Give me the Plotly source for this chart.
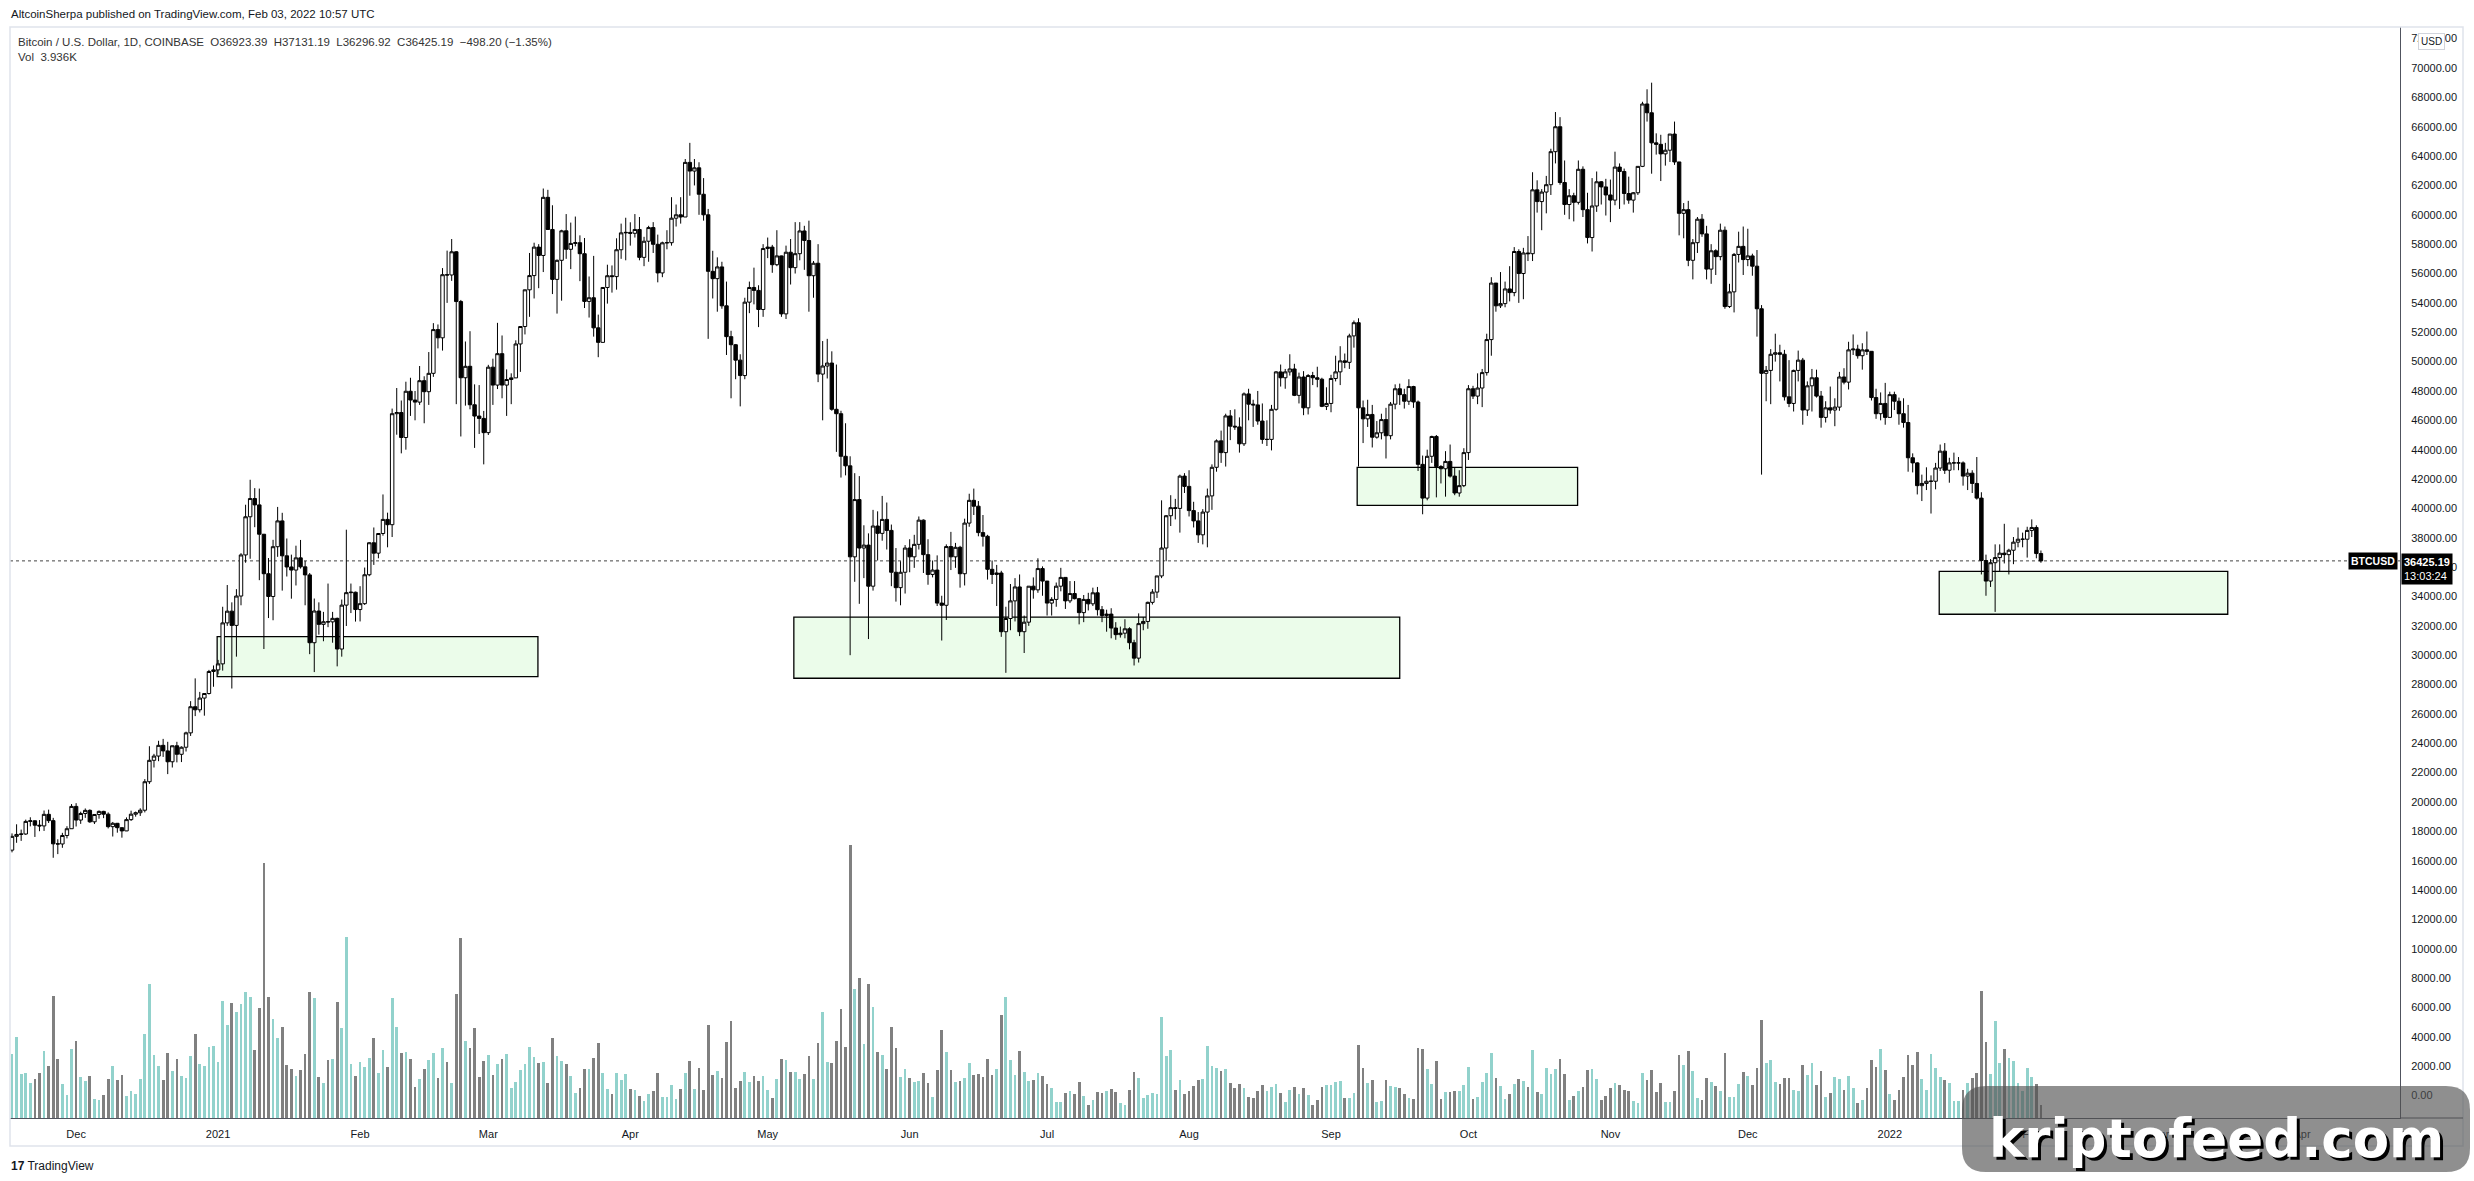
import pandas as pd
import plotly.graph_objects as go

# ---------------- DATA ----------------
START = "2020-11-17"
N_BARS = 444
FIRST_OPEN = 16720

close = [
    17660,17790,17820,18680,18720,18420,18370,19160,18730,17150,17140,17720,18180,19700,
    18770,19220,19430,18650,19150,19360,19170,18320,18550,18250,18030,18800,19170,19270,19440,21380,22840,23130,23860,23480,22740,23830,23250,23730,24710,26490,26280,27080,27390,28890,29000,
    29410,32200,33000,32030,34030,36830,39430,40670,40240,38240,35550,34000,37390,39150,36770,36010,35800,36630,36020,35470,30850,33010,32100,32280,32270,32510,30420,33410,34260,34290,33110,
    33510,35480,37660,36950,38290,39250,38890,46450,46530,44830,47980,47380,47240,48700,47950,49200,52180,51620,55920,55900,57480,54090,48900,49680,47060,46290,46130,45160,
    49620,48400,50540,48400,48780,48890,51200,52390,54890,55860,57800,57230,61190,59000,55600,56900,58910,57650,58050,58100,57350,54100,54350,52300,51310,55050,55850,55790,57620,58770,58800,
    58740,59000,57100,58200,59130,57990,56040,58090,58100,59770,60000,59850,63570,62980,63200,61400,60000,56150,55650,56450,53800,51700,51150,50100,49050,54050,55050,54850,53550,57700,
    57800,56600,57200,53250,57450,56400,57350,58900,58250,55850,56700,49150,49700,49900,46750,46450,43550,42900,36700,40600,37300,37500,34700,38800,38300,39250,38500,35650,34600,35650,37300,
    36700,37550,39200,36850,35500,35800,33550,33400,37400,36700,37350,35550,39000,40550,40150,38350,38100,35850,35500,35600,31600,32500,33700,34650,31600,32250,34700,34450,35900,35050,
    33550,33800,34700,35300,33700,34200,33850,32900,33800,33500,34250,33100,32700,32800,31850,31400,31500,31800,30850,29800,32150,32300,33600,34300,35400,37300,39500,40050,40000,42200,41500,
    39850,39150,38200,39750,40850,42800,44600,43800,46300,45600,45550,44400,47800,47100,47050,45950,44700,44700,46750,49300,48900,49300,49500,47700,48950,46850,49050,48900,48800,46950,47150,
    48850,49300,50050,49950,51750,52650,46850,46100,46400,44850,45150,46050,44950,47100,48150,47750,47300,48300,47250,43000,40700,43550,44900,42850,42700,43200,42200,41050,41550,43800,
    48150,47650,48200,49250,51500,55350,53800,53950,54950,54700,57500,56000,57400,57350,61700,60900,61550,62050,64300,66000,62200,60700,61300,60850,63100,60350,58450,60600,62250,61900,61350,
    61000,63250,62950,61450,61000,61500,63300,67550,66950,64900,64800,64150,64400,65500,63600,60100,60350,56900,58100,59700,58700,56300,57550,57150,58950,53750,54750,57300,57850,56950,
    57200,56500,53600,49200,49400,50500,50600,50500,47600,47150,49400,50100,46700,48350,48900,47650,46200,46850,46700,46900,48950,48600,50800,50850,50400,50800,50700,47550,46450,47150,46200,
    47750,47300,46450,45850,43450,43100,41550,41700,41850,41850,42750,43900,42600,43100,43100,43100,42200,42400,41700,40700,36450,35050,36300,36650,36950,36850,37150,37700,37900,37900,38500,
    38700,36923.39,36425.19,
]

high = [
    17860,18480,18120,18800,18960,18750,18770,19420,19480,18920,17460,17900,18350,19860,
    19920,19340,19560,19500,19160,19420,19400,19290,18640,18560,18280,18950,19410,19350,19570,21560,23800,23280,24170,24300,24100,23840,24100,23790,24790,26870,28420,27500,27410,29000,29300,
    29680,33300,34780,33600,34500,36950,40250,41950,41380,41350,38260,36620,37860,40100,39700,37950,36850,37460,37850,36420,35600,33860,33600,32950,34880,32950,32560,33790,38550,34880,34330,
    34700,35970,37700,38700,38320,40950,39710,46800,48200,47350,48630,48900,48000,49700,49000,50650,52620,52530,56370,57560,58350,57530,54200,51370,52070,48450,48400,46640,
    49780,50200,52640,51780,49470,49200,51450,52400,54900,57400,58100,58000,61790,61700,60650,56950,58980,60050,59470,59880,58600,58420,55800,57200,53200,55070,56600,56550,58400,59400,59800,
    59490,60050,59850,58500,59250,59500,58650,58170,58950,61200,60700,61200,63800,64900,63800,63580,62500,60400,57550,57100,56800,55450,52100,51200,50500,54350,55450,56400,55200,58000,
    58450,57950,58950,57220,57900,58350,59500,59500,59250,59600,56850,58000,51400,51550,50700,49800,46650,45800,43550,42400,42200,38850,38300,39900,39800,40850,40400,38900,37300,36400,37500,
    37900,38200,39450,39250,37900,36450,36800,34050,37550,38400,37650,37450,39300,41000,41350,40500,39550,38200,36450,36150,35750,33300,34850,35250,35500,32700,34700,35300,36600,36050,
    35050,33950,34950,35950,35300,35050,35050,33900,34100,34250,34600,34650,33350,33100,33200,32250,31950,32450,31900,31050,32850,32600,33650,34500,35400,40550,39550,40900,40650,42300,42400,
    42600,40450,39750,39950,41350,43000,44700,45300,46450,46700,46750,46200,47900,48150,47400,48000,47150,46000,47050,49350,49800,49500,50500,49850,49250,49350,49150,49300,49650,48900,48250,
    49100,50400,51050,50550,51900,52800,52950,47350,47400,47050,45950,46450,46850,47250,48450,48500,48150,48800,48350,47350,43600,44000,44950,45000,42950,43900,44350,42750,42600,44100,
    48400,48350,49200,49500,51900,55750,55350,56100,55450,56500,57800,57650,57750,58550,62900,62350,61750,62650,64500,67000,66650,63700,61750,61500,63700,63300,61500,62500,62950,62300,62450,
    62400,64300,63500,63150,62600,61550,63300,67700,68550,69000,65550,65450,64900,65300,66350,63600,60800,60950,58350,59850,60050,59250,58000,57650,59400,59200,55300,57400,58850,59200,
    59050,57350,57600,53850,49700,50850,51900,51150,50800,50100,49450,50750,50250,48650,49500,49450,48000,47300,48300,47500,49300,49550,51350,51850,51150,51250,52050,50700,48150,47900,48550,
    47950,47950,47550,47500,47050,43750,43150,42300,42800,42250,43100,44350,44450,43450,43800,43500,43200,42700,42600,43500,41100,36850,36550,37550,37550,38950,37250,38050,38700,38350,38750,
    39250,38850,37131.19,
]

low = [
    16570,17220,17350,17760,18340,17620,18010,18030,18570,16200,16450,16880,17520,18180,
    18330,18510,18920,18580,18500,18860,18900,18200,17650,17910,17570,18020,18710,19000,19050,19290,21230,22350,22780,23070,21900,22350,22700,22720,23440,24500,25850,26100,25880,27320,27850,
    28690,28950,32000,27730,29900,33400,36300,36570,38720,35110,30420,32530,32380,36700,34400,35360,33850,34750,35900,33400,30070,28850,31400,30950,31910,30850,29240,29900,31990,32870,32290,
    32300,33420,35380,36150,36600,38140,37350,38050,45020,43750,44000,46300,46000,47050,45800,47050,48960,50900,50750,54000,55500,47100,44900,47000,46750,44120,45070,43000,
    45000,47050,48130,47500,46300,47100,48880,49300,51850,53050,54300,55000,56100,59000,54600,53270,54150,57000,56300,57850,55480,53650,53000,51700,50300,51300,53950,54700,54900,57000,56900,
    57900,58450,56900,56500,56800,57400,55400,55750,57650,57900,59200,59400,59850,61300,62000,60000,59600,51550,54300,53400,53600,50450,47500,48800,46950,48800,53300,53900,52350,53050,
    57050,56050,56500,53050,52900,55250,56000,56900,56250,53400,54350,48600,46000,48850,46650,43850,42100,42250,30000,35000,33500,35250,31100,34400,36450,37800,37200,34700,33650,33400,34200,
    35650,35950,37200,35600,34800,35300,33350,31000,32400,35800,35950,34600,34750,38750,39550,38100,37400,35150,34850,33350,31250,28800,31700,32300,31300,30150,32000,33850,34250,34050,
    32700,32700,33300,34350,33150,33550,33800,32100,32250,33050,33350,32700,32250,31600,31150,31050,31200,31150,30400,29300,29500,31700,31800,33450,33900,35250,36400,38800,39250,38350,41050,
    39450,38700,37650,37550,37350,39900,42500,43100,42850,44650,45350,43800,44250,46000,45550,45700,44400,44250,43950,46650,48300,48150,49050,47650,47150,46350,46400,48400,48250,46900,46700,
    46550,48650,48400,49550,49500,50950,42850,44450,45550,44150,44750,44700,43400,44700,46750,47050,46800,47050,46850,42550,39600,40550,43100,40750,41700,40800,42100,40900,40800,41450,
    43300,47450,47100,46900,49050,50400,53400,53650,53700,54100,54450,54000,54250,56850,56850,60150,58950,60100,61350,63500,62050,60000,59700,59550,60700,59850,58050,57500,60200,60700,59950,
    59500,60650,60400,60700,60750,60150,61350,63250,66350,62800,64100,62300,63350,63600,63400,58600,58400,56500,55600,57400,58500,55600,55300,55900,56900,53600,53650,53350,56750,55900,
    56500,55850,51700,42300,47300,47100,50000,48650,47350,46900,46600,48650,45700,46300,46600,47550,45500,45850,46450,45600,46650,48450,48100,50450,50200,49450,50450,47350,46100,46000,45700,
    46200,46700,45700,45500,42500,42450,40950,40500,41250,39650,41300,42550,42350,41750,42600,42600,41550,41250,41050,40600,35500,34050,34650,32950,35700,36250,35500,36200,37350,37350,36650,
    38050,36600,36296.92,
]

# volume in thousands of BTC
vol_k = [
    19.9,25.2,13.7,14.0,10.9,12.1,14.0,20.8,16.2,38.0,
    18.4,10.5,7.2,21.5,24.0,12.8,11.5,13.1,5.9,5.6,
    7.2,12.1,16.2,11.8,13.4,6.8,8.4,7.5,12.1,26.1,
    41.7,19.6,16.2,11.8,20.2,14.6,18.4,13.1,12.4,19.3,
    26.1,16.8,16.2,22.1,22.4,17.4,36.4,28.9,35.8,33.0,
    35.5,39.2,37.6,21.2,34.2,79.3,37.6,30.8,24.9,28.3,
    16.5,15.2,13.1,14.9,19.9,39.2,37.3,12.8,10.9,18.0,
    18.4,36.1,28.0,56.3,16.8,13.1,17.4,15.9,18.7,24.9,
    14.0,21.2,15.9,37.3,28.3,20.2,20.5,18.4,9.6,12.1,
    15.2,18.0,20.2,12.4,21.8,17.4,10.9,38.6,56.0,24.0,
    21.8,28.0,12.8,17.7,19.6,13.4,16.8,18.4,19.9,9.3,
    11.2,14.9,16.8,22.1,19.0,17.1,17.4,10.9,24.9,19.3,
    17.7,16.8,13.1,7.8,9.3,15.2,15.2,18.7,23.3,14.0,
    9.0,7.5,14.0,11.8,13.7,9.0,8.7,6.8,5.3,7.5,
    8.4,14.0,6.5,6.5,10.3,5.9,9.0,14.0,17.7,9.0,
    15.6,8.7,28.9,13.4,14.6,12.4,23.6,30.2,9.3,11.5,
    14.3,11.2,13.1,11.5,13.1,8.7,6.2,12.1,18.4,18.0,
    14.3,14.3,12.1,13.7,19.3,12.1,23.3,33.0,17.4,17.1,
    24.0,33.9,22.1,84.9,40.1,43.6,23.0,41.7,34.5,20.5,
    19.6,15.2,28.3,21.8,12.8,15.2,12.4,11.2,11.5,14.0,
    10.9,6.5,14.9,27.4,20.5,14.9,11.2,11.5,12.4,17.1,
    13.4,13.7,12.8,18.4,13.4,15.2,32.0,37.6,18.0,13.4,20.8,
    14.3,11.5,11.8,14.0,13.1,10.6,9.3,5.0,5.0,7.8,
    8.4,7.5,11.2,6.8,4.0,5.6,8.1,7.8,8.4,9.0,
    8.1,4.7,4.0,8.7,14.3,12.4,6.2,7.2,7.8,7.5,
    31.4,19.3,21.2,8.7,11.8,7.5,8.4,10.0,11.8,12.1,
    22.4,16.2,15.6,14.6,15.2,10.9,9.3,10.6,9.3,6.5,
    6.2,8.4,10.3,8.4,9.6,10.6,7.8,5.0,8.7,9.6,
    7.5,9.3,7.2,4.0,5.6,9.6,10.3,10.3,11.2,11.5,
    6.2,6.2,7.8,22.7,15.6,10.9,11.8,5.0,5.3,11.8,
    10.0,9.6,9.3,7.5,6.2,5.9,21.8,21.5,15.2,10.6,
    17.7,5.9,8.1,8.1,8.4,8.4,10.3,15.9,5.9,6.5,
    11.2,14.0,20.2,12.4,10.0,5.9,7.5,10.6,12.1,11.5,
    9.6,21.2,8.1,7.5,15.6,13.7,15.2,18.4,13.7,5.6,
    6.8,8.4,9.6,14.9,15.2,12.1,5.6,6.8,9.3,10.9,
    10.3,8.7,8.4,5.3,4.7,14.0,11.8,14.9,8.1,10.9,
    5.0,5.0,8.4,19.6,16.5,20.8,14.6,6.2,5.6,12.4,
    11.2,10.0,8.4,20.2,6.5,6.5,10.6,14.3,13.1,10.3,
    15.6,30.5,17.1,18.0,11.2,10.6,12.4,12.4,8.7,8.4,
    16.5,13.4,17.1,10.3,14.6,6.5,7.8,12.8,12.1,8.7,
    13.1,9.3,4.7,5.6,9.3,18.0,15.9,21.5,14.9,7.5,
    5.6,8.7,12.8,19.6,16.5,20.5,12.1,8.7,19.9,15.6,
    12.8,11.8,10.9,5.3,5.3,8.7,10.9,12.4,14.0,39.5,
    23.6,13.7,30.2,17.1,21.5,18.7,17.7,10.9,8.4,15.6,12.8,10.6,3.936,
]

month_ticks = ["2020-12-01","2021-01-01","2021-02-01","2021-03-01","2021-04-01","2021-05-01",
               "2021-06-01","2021-07-01","2021-08-01","2021-09-01","2021-10-01","2021-11-01",
               "2021-12-01","2022-01-01","2022-02-01","2022-03-01","2022-04-01"]
month_labels = ["Dec","2021","Feb","Mar","Apr","May","Jun","Jul","Aug","Sep","Oct","Nov",
                "Dec","2022","Feb","Mar","Apr"]
price_ticks = list(range(0, 72001, 2000))

zones = [  # (start, end, low, high)
    ("2020-12-31 19:00", "2021-03-11 20:00", 28540, 31270),
    ("2021-05-06 17:00", "2021-09-16 00:00", 28430, 32600),
    ("2021-09-06 17:00", "2021-10-24 20:00", 40210, 42800),
    ("2022-01-11 19:00", "2022-03-15 19:00", 32790, 35710),
]
LAST_PRICE = 36425.19

assert len(close) == N_BARS, len(close)
assert len(high) == N_BARS, len(high)
assert len(low) == N_BARS, len(low)
assert len(vol_k) == N_BARS, len(vol_k)

dates = pd.date_range(START, periods=N_BARS, freq="D")
opn = [FIRST_OPEN] + close[:-1]
hi = [max(h, o, c) for h, o, c in zip(high, opn, close)]
lo = [min(l, o, c) for l, o, c in zip(low, opn, close)]
vol_colors = ["#92d2cc" if c >= o else "#808080" for o, c in zip(opn, close)]

# ---------------- LAYOUT GEOMETRY ----------------
W, H = 2474, 1181
PX0, PX1, PY0, PY1 = 10, 2400, 27, 1118
PW, PH = PX1 - PX0, PY1 - PY0

def px(x):
    return (x - PX0) / PW

def py(y):
    return (PY1 - y) / PH

fig = go.Figure()

fig.add_trace(go.Bar(
    x=dates, y=vol_k, yaxis="y2",
    marker=dict(color=vol_colors, line=dict(width=0)),
    width=0.6 * 86400000, hoverinfo="skip", showlegend=False,
))

fig.add_trace(go.Candlestick(
    x=dates, open=opn, high=hi, low=lo, close=close,
    increasing=dict(line=dict(color="#000000", width=1), fillcolor="#ffffff"),
    decreasing=dict(line=dict(color="#000000", width=1), fillcolor="#000000"),
    whiskerwidth=0, showlegend=False, hoverinfo="skip",
))

shapes = []
for x0, x1, y0, y1 in zones:
    shapes.append(dict(type="rect", xref="x", yref="y", x0=x0, x1=x1, y0=y0, y1=y1,
                       fillcolor="#ebfcea", line=dict(color="#000000", width=1.3), layer="below"))
shapes.append(dict(type="line", xref="paper", yref="y", x0=0, x1=1, y0=LAST_PRICE, y1=LAST_PRICE,
                   line=dict(color="#444444", width=1, dash="dot"), layer="below"))
# outer frame
shapes.append(dict(type="rect", xref="paper", yref="paper", x0=px(10), x1=px(2463), y0=py(1146), y1=py(27),
                   line=dict(color="#e0e3eb", width=1.5), fillcolor="rgba(0,0,0,0)"))
shapes.append(dict(type="line", xref="paper", yref="paper", x0=px(2400), x1=px(2463), y0=py(1118), y1=py(1118),
                   line=dict(color="#50535e", width=1)))

# watermark rounded box
def rrect(x0, y0, x1, y1, r):
    rx, ry = r / PW, r / PH
    X0, X1, Y0, Y1 = px(x0), px(x1), py(y0), py(y1)   # Y0 top (larger), Y1 bottom
    return (f"M {X0+rx},{Y0} L {X1-rx},{Y0} Q {X1},{Y0} {X1},{Y0-ry} "
            f"L {X1},{Y1+ry} Q {X1},{Y1} {X1-rx},{Y1} L {X0+rx},{Y1} "
            f"Q {X0},{Y1} {X0},{Y1+ry} L {X0},{Y0-ry} Q {X0},{Y0} {X0+rx},{Y0} Z")

shapes.append(dict(type="path", xref="paper", yref="paper", path=rrect(1962, 1086, 2470, 1172, 24),
                   fillcolor="rgba(80,80,80,0.64)", line=dict(width=0)))

FONT = "Liberation Sans, Arial, sans-serif"
annotations = [
    dict(xref="paper", yref="paper", x=px(9), y=py(14), xanchor="left", yanchor="middle",
         text="AltcoinSherpa published on TradingView.com, Feb 03, 2022 10:57 UTC",
         showarrow=False, font=dict(size=11.5, color="#131722", family=FONT)),
    dict(xref="paper", yref="paper", x=px(16), y=py(42), xanchor="left", yanchor="middle",
         text="Bitcoin / U.S. Dollar, 1D, COINBASE  O36923.39  H37131.19  L36296.92  C36425.19  \u2212498.20 (\u22121.35%)",
         showarrow=False, font=dict(size=11.5, color="#333333", family=FONT)),
    dict(xref="paper", yref="paper", x=px(16), y=py(57), xanchor="left", yanchor="middle",
         text="Vol  3.936K", showarrow=False, font=dict(size=11.5, color="#333333", family=FONT)),
    dict(xref="paper", yref="y", x=px(2398), y=LAST_PRICE, xanchor="right", yanchor="middle",
         text="<b>BTCUSD</b>", showarrow=False, bgcolor="#000000", borderpad=2,
         font=dict(size=10.5, color="#ffffff", family=FONT)),
    dict(xref="paper", yref="paper", x=px(2401), y=py(553), xanchor="left", yanchor="top",
         text="<b>36425.19</b><br>13:03:24", showarrow=False, bgcolor="#000000", borderpad=2,
         align="left", font=dict(size=11, color="#ffffff", family=FONT)),
    dict(xref="paper", yref="paper", x=px(2431), y=py(41), xanchor="center", yanchor="middle",
         text="USD", showarrow=False, bgcolor="#ffffff", bordercolor="#d1d4dc", borderwidth=1, borderpad=2,
         font=dict(size=10, color="#131722", family=FONT)),
    dict(xref="paper", yref="paper", x=px(9), y=py(1166), xanchor="left", yanchor="middle",
         text="<b>17</b> TradingView", showarrow=False, font=dict(size=12, color="#131722", family=FONT)),
    dict(xref="paper", yref="paper", x=px(2216), y=py(1138), xanchor="center", yanchor="middle",
         text="<b>kriptofeed.com</b>", showarrow=False,
         font=dict(size=53, color="#ffffff", family="DejaVu Sans, sans-serif",
                   shadow="3px 3px 0px #000000")),
]

fig.update_layout(
    width=W, height=H,
    margin=dict(l=PX0, r=W - PX1, t=PY0, b=H - PY1),
    paper_bgcolor="#ffffff", plot_bgcolor="#ffffff",
    showlegend=False, hovermode=False,
    boxgap=0.25, boxgroupgap=0,
    bargap=0,
    font=dict(family=FONT, color="#131722"),
    xaxis=dict(
        type="date",
        range=["2020-11-16 13:31", "2022-04-22 09:36"],
        tickvals=month_ticks, ticktext=month_labels,
        showgrid=False, zeroline=False, showline=True, linecolor="#50535e", linewidth=1,
        ticks="", ticklabelstandoff=6,
        tickfont=dict(size=11, color="#131722", family=FONT),
        rangeslider=dict(visible=False), fixedrange=True,
    ),
    yaxis=dict(
        side="right", range=[-1526, 72793],
        tickvals=price_ticks, tickformat=".2f",
        showgrid=False, zeroline=False, showline=True, linecolor="#50535e", linewidth=1,
        ticks="", ticklabelstandoff=8,
        tickfont=dict(size=11, color="#131722", family=FONT), fixedrange=True,
    ),
    yaxis2=dict(overlaying="y", range=[0, 339.3], visible=False, fixedrange=True),
    shapes=shapes,
    annotations=annotations,
)

fig.write_html("out.html")
